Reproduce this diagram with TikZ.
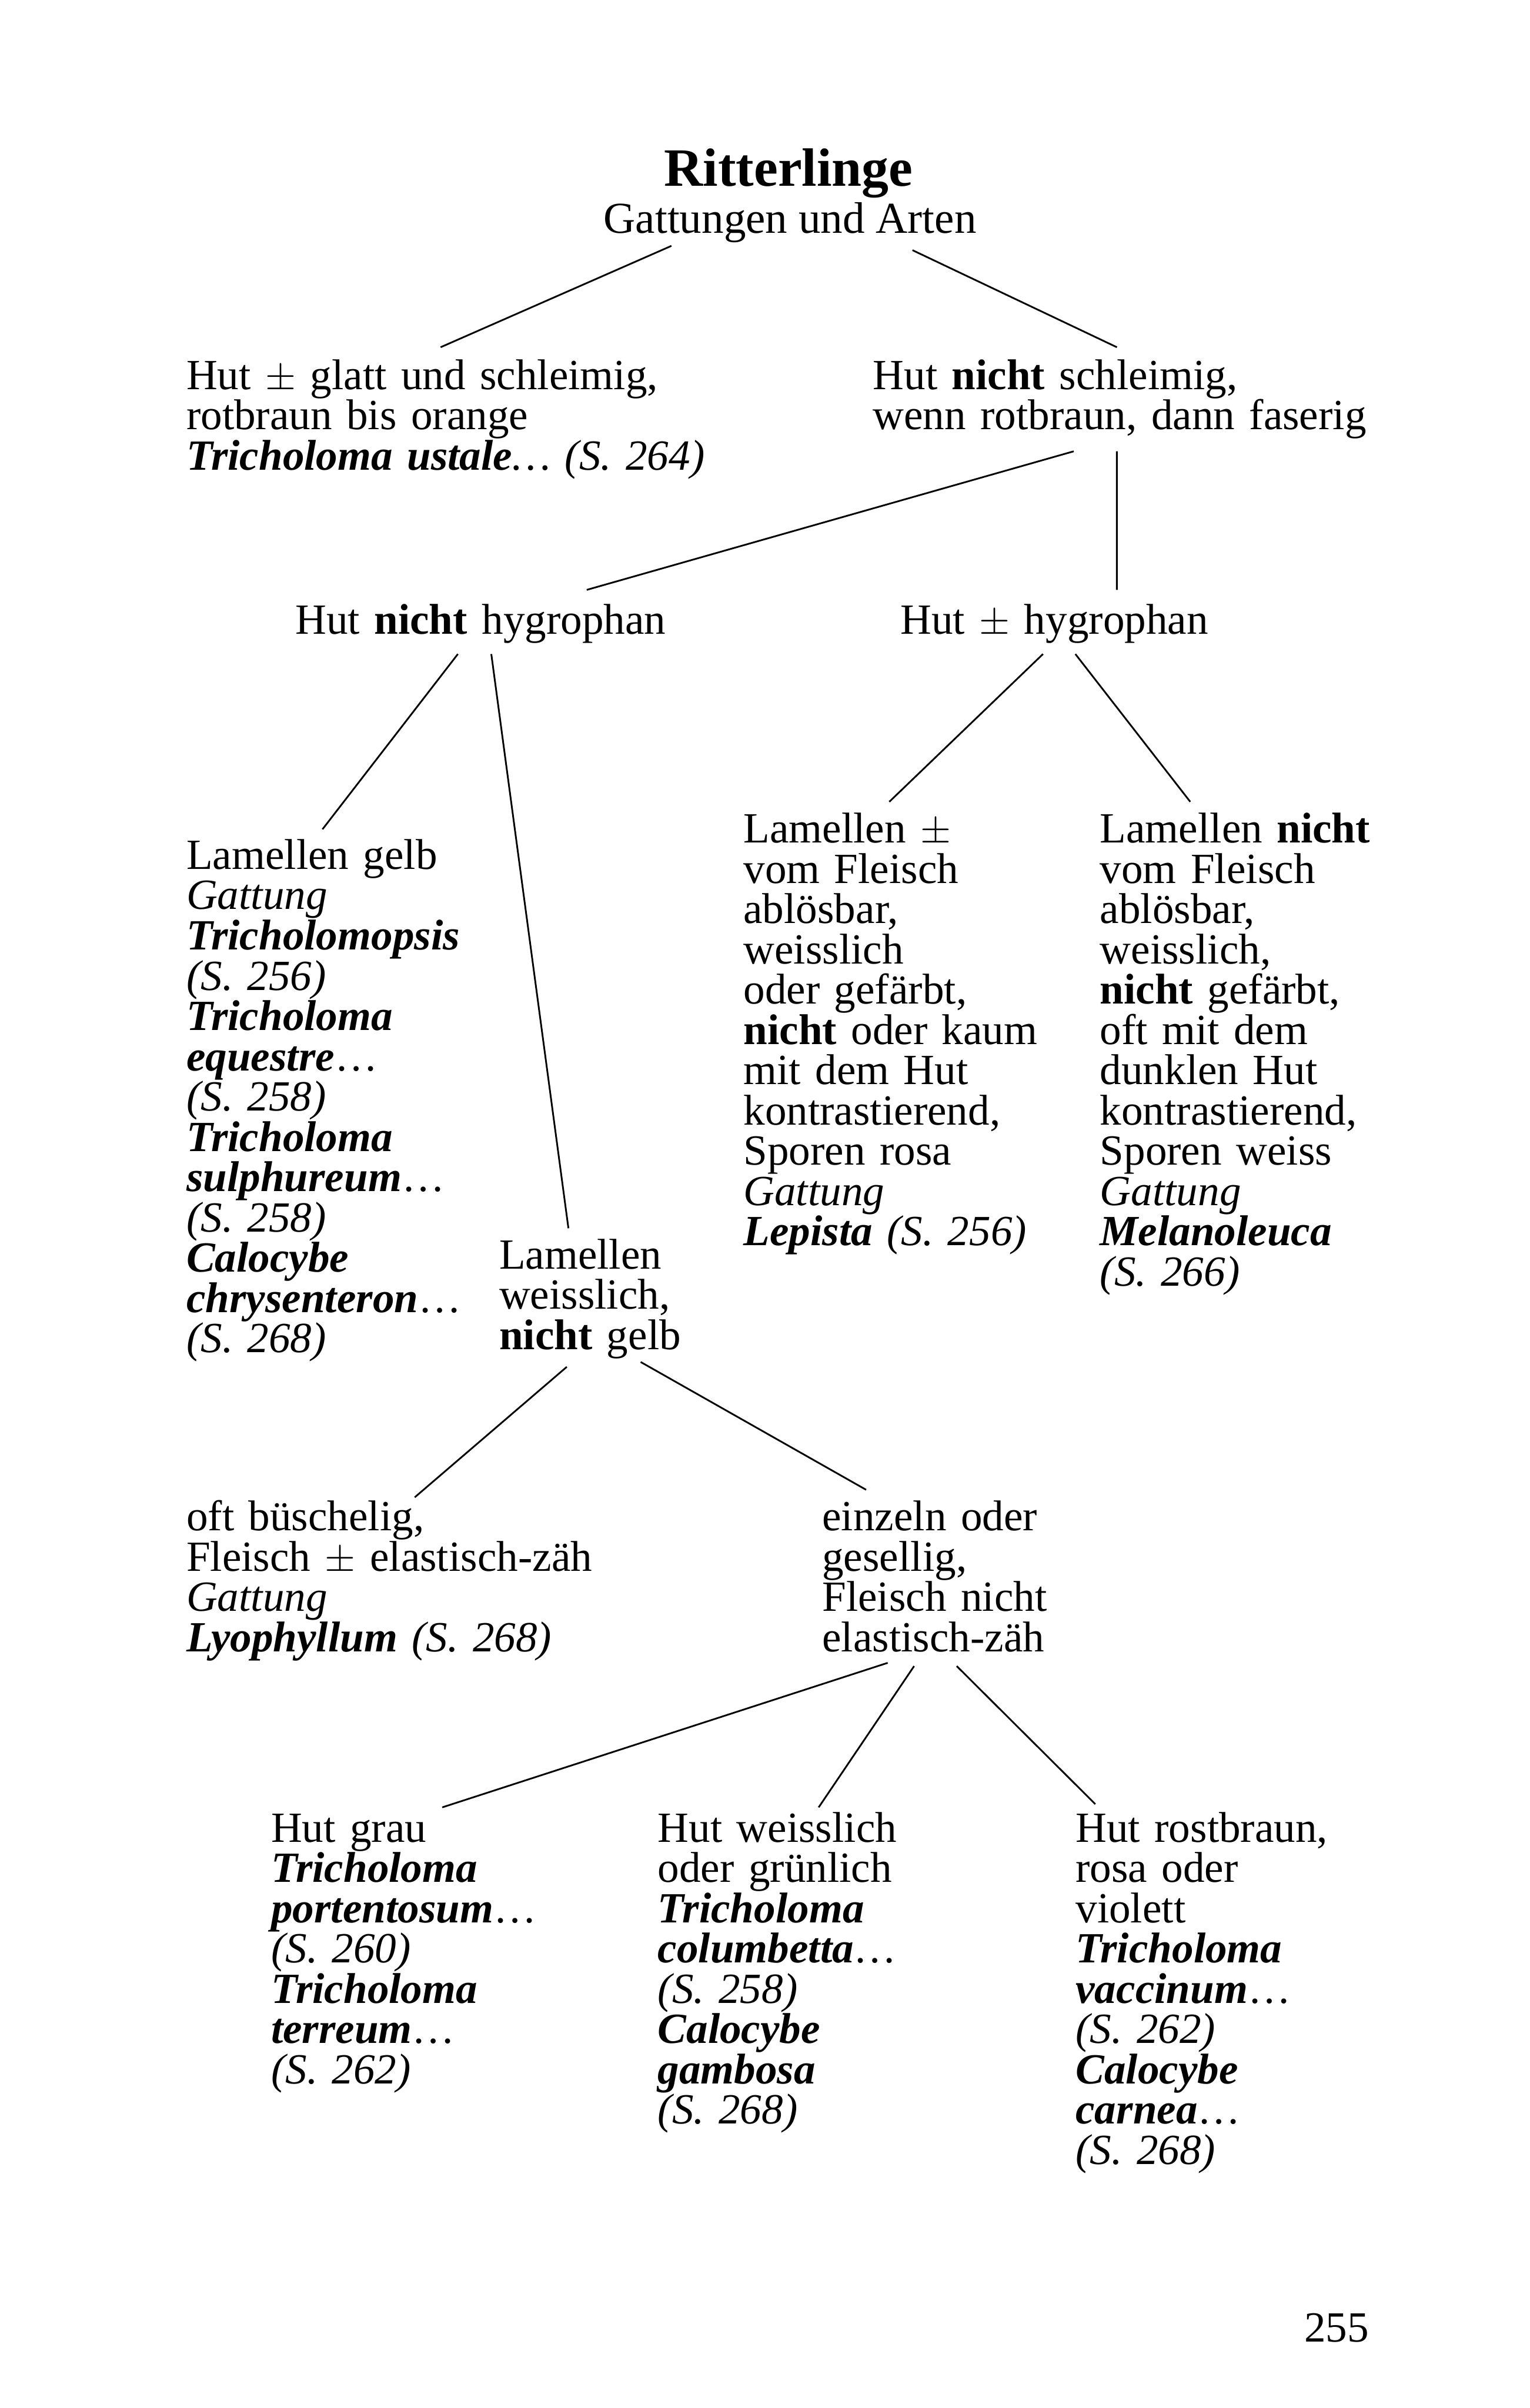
\documentclass[tikz,border=0pt]{standalone}
\usepackage{fontspec}
\setmainfont{Liberation Serif}
\usepackage{tikz}
\usetikzlibrary{positioning}
\newcommand{\artname}[1]{\textbf{\textit{#1}}}
\setlength{\lineskiplimit}{-10pt}

\begin{document}
\begin{tikzpicture}[
    txt/.style={anchor=base west, inner sep=0pt, text width=12cm, align=left, font=\fontsize{22.7}{21.26}\selectfont},
    link/.style={line width=0.9pt}
]
\useasboundingbox (0,0) rectangle (28.36,-44.66);

% Title
\node[inner sep=0pt, anchor=base, font=\fontsize{28.5}{30}\selectfont\bfseries] (title) at (14.62,-3.45) {Ritterlinge};
\node[inner sep=0pt, anchor=base, font=\fontsize{23.3}{21.26}\selectfont] (sub) at (14.65,-4.32) {Gattungen und Arten};

% Hut schleimig or not
\node[txt] (hutA) at (3.45,-7.22) {Hut $\pm$ glatt und schleimig,\\ rotbraun bis orange\\ \artname{Tricholoma ustale}\textit{\dots}\ \textit{(S. 264)}};
\node[txt] (hutB) at (16.18,-7.22) {Hut \textbf{nicht} schleimig,\\ wenn rotbraun, dann faserig};

% hygrophan
\node[txt] (hutC) at (5.47,-11.76) {Hut \textbf{nicht} hygrophan};
\node[txt] (hutD) at (16.69,-11.76) {Hut $\pm$ hygrophan};

% Lamellen
\node[txt] (lamE) at (3.45,-16.12) {Lamellen gelb\\ \textit{Gattung}\\ \artname{Tricholomopsis}\\ \textit{(S. 256)}\\ \artname{Tricholoma}\\ \artname{equestre}\dots\\ \textit{(S. 258)}\\ \artname{Tricholoma}\\ \artname{sulphureum}\dots\\ \textit{(S. 258)}\\ \artname{Calocybe}\\ \artname{chrysenteron}\dots\\ \textit{(S. 268)}};
\node[txt] (lamF) at (13.78,-15.63) {Lamellen $\pm$\\ vom Fleisch\\ ablösbar,\\ weisslich\\ oder gefärbt,\\ \textbf{nicht} oder kaum\\ mit dem Hut\\ kontrastierend,\\ Sporen rosa\\ \textit{Gattung}\\ \artname{Lepista} \textit{(S. 256)}};
\node[txt] (lamG) at (20.39,-15.63) {Lamellen \textbf{nicht}\\ vom Fleisch\\ ablösbar,\\ weisslich,\\ \textbf{nicht} gefärbt,\\ oft mit dem\\ dunklen Hut\\ kontrastierend,\\ Sporen weiss\\ \textit{Gattung}\\ \artname{Melanoleuca}\\ \textit{(S. 266)}};
\node[txt] (lamH) at (9.25,-23.53) {Lamellen\\ weisslich,\\ \textbf{nicht} gelb};

% Wuchs
\node[txt] (oftI) at (3.45,-28.39) {oft büschelig,\\ Fleisch $\pm$ elastisch-zäh\\ \textit{Gattung}\\ \artname{Lyophyllum} \textit{(S. 268)}};
\node[txt] (einJ) at (15.24,-28.39) {einzeln oder\\ gesellig,\\ Fleisch nicht\\ elastisch-zäh};

% Hutfarbe
\node[txt] (hutK) at (5.02,-34.16) {Hut grau\\ \artname{Tricholoma}\\ \artname{portentosum}\dots\\ \textit{(S. 260)}\\ \artname{Tricholoma}\\ \artname{terreum}\dots\\ \textit{(S. 262)}};
\node[txt] (hutL) at (12.19,-34.16) {Hut weisslich\\ oder grünlich\\ \artname{Tricholoma}\\ \artname{columbetta}\dots\\ \textit{(S. 258)}\\ \artname{Calocybe}\\ \artname{gambosa}\\ \textit{(S. 268)}};
\node[txt] (hutM) at (19.94,-34.16) {Hut rostbraun,\\ rosa oder\\ violett\\ \artname{Tricholoma}\\ \artname{vaccinum}\dots\\ \textit{(S. 262)}\\ \artname{Calocybe}\\ \artname{carnea}\dots\\ \textit{(S. 268)}};

% Page number
\node[txt, text width=2cm] (page) at (24.18,-43.43) {255};

% Lines
\draw[link] ([shift={(-2.17,-1.11)}]title.base) -- ([shift={(4.72,0.78)}]hutA.base west);
\draw[link] ([shift={(2.30,-1.19)}]title.base) -- ([shift={(4.53,0.78)}]hutB.base west);
\draw[link] ([shift={(3.73,-1.15)}]hutB.base west) -- ([shift={(5.41,0.82)}]hutC.base west);
\draw[link] ([shift={(4.53,-1.15)}]hutB.base west) -- ([shift={(4.02,0.82)}]hutD.base west);
\draw[link] ([shift={(3.02,-0.37)}]hutC.base west) -- ([shift={(2.53,0.74)}]lamE.base west);
\draw[link] ([shift={(3.64,-0.37)}]hutC.base west) -- ([shift={(1.29,0.75)}]lamH.base west);
\draw[link] ([shift={(2.65,-0.37)}]hutD.base west) -- ([shift={(2.71,0.76)}]lamF.base west);
\draw[link] ([shift={(3.25,-0.37)}]hutD.base west) -- ([shift={(1.68,0.76)}]lamG.base west);
\draw[link] ([shift={(1.26,-1.82)}]lamH.base west) -- ([shift={(4.24,0.62)}]oftI.base west);
\draw[link] ([shift={(2.63,-1.73)}]lamH.base west) -- ([shift={(0.82,0.76)}]einJ.base west);
\draw[link] ([shift={(1.22,-2.45)}]einJ.base west) -- ([shift={(3.18,0.64)}]hutK.base west);
\draw[link] ([shift={(1.71,-2.51)}]einJ.base west) -- ([shift={(2.99,0.64)}]hutL.base west);
\draw[link] ([shift={(2.50,-2.51)}]einJ.base west) -- ([shift={(0.37,0.70)}]hutM.base west);

\end{tikzpicture}
\end{document}
